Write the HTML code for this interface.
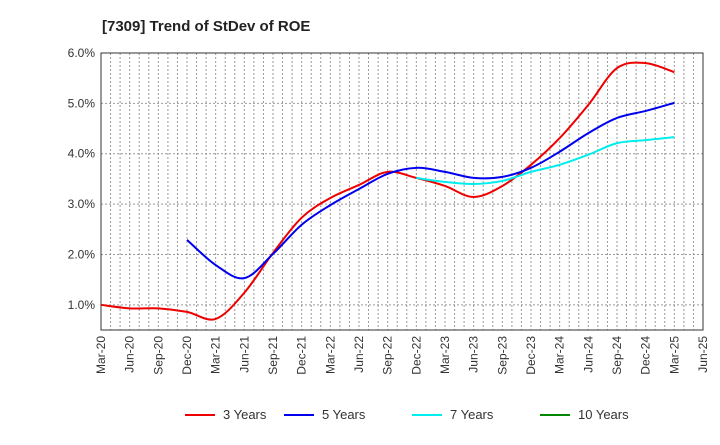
<!DOCTYPE html>
<html><head><meta charset="utf-8"><style>
body{margin:0;background:#fff;font-family:"Liberation Sans",Arial,sans-serif}
</style></head><body>
<svg id="c" width="720" height="440" xmlns="http://www.w3.org/2000/svg" font-family="Liberation Sans, Arial, sans-serif">
<text x="102" y="31" font-size="15" font-weight="bold" fill="#222">[7309]  Trend of StDev of ROE</text>
<g id="grid"></g><g id="axes"></g><g id="series"></g><g id="legend"></g>
</svg>
<script>
const xLabels=["Mar-20","Jun-20","Sep-20","Dec-20","Mar-21","Jun-21","Sep-21","Dec-21","Mar-22","Jun-22","Sep-22","Dec-22","Mar-23","Jun-23","Sep-23","Dec-23","Mar-24","Jun-24","Sep-24","Dec-24","Mar-25","Jun-25"];
const yTicks=[1,2,3,4,5,6];
const s3=[1.0,0.93,0.93,0.86,0.72,1.24,2.03,2.73,3.12,3.38,3.64,3.52,3.36,3.14,3.36,3.78,4.31,4.97,5.70,5.80,5.62];
const s5=[null,null,null,2.29,1.79,1.53,2.01,2.59,2.98,3.30,3.60,3.72,3.64,3.52,3.54,3.72,4.04,4.41,4.71,4.85,5.01];
const s7=[null,null,null,null,null,null,null,null,null,null,null,3.52,3.44,3.40,3.46,3.64,3.78,3.98,4.21,4.27,4.33];
const s10=[];
const L=101,R=703,T=53,B=330,ymin=0.5,ymax=6.0;
const NS="http://www.w3.org/2000/svg";
const X=q=>L+q*(R-L)/21;
const Y=v=>B-(v-ymin)*(B-T)/(ymax-ymin);
function mk(tag,at,par){const e=document.createElementNS(NS,tag);for(const k in at)e.setAttribute(k,at[k]);document.getElementById(par).appendChild(e);return e;}
for(let m=1;m<63;m++){const l=mk('line',{x1:X(m/3),x2:X(m/3),y1:T,y2:B,stroke:'#999','stroke-dasharray':'2,2','stroke-width':1},'grid');

}
yTicks.forEach(v=>{const l=mk('line',{x1:L,x2:R,y1:Y(v),y2:Y(v),stroke:'#999','stroke-dasharray':'2,2'},'grid');


const t=mk('text',{x:L-6,y:Y(v)+4,'text-anchor':'end','font-size':12,fill:'#333'},'axes');t.textContent=v.toFixed(1)+'%';

});
const fr=mk('rect',{x:L,y:T,width:R-L,height:B-T,fill:'none',stroke:'#333'},'axes');


xLabels.forEach((s,i)=>{const t=mk('text',{transform:`translate(${X(i)+4},${B+6}) rotate(-90)`,'text-anchor':'end','font-size':12,fill:'#333'},'axes');t.textContent=s;

});
function path(arr){const p=[];arr.forEach((v,i)=>{if(v!=null)p.push([X(i),Y(v)]);});if(!p.length)return'';
let d=`M${p[0][0]},${p[0][1]}`;for(let i=0;i<p.length-1;i++){const p0=p[i-1]||p[i],p1=p[i],p2=p[i+1],p3=p[i+2]||p2;
d+=` C${p1[0]+(p2[0]-p0[0])/6},${p1[1]+(p2[1]-p0[1])/6} ${p2[0]-(p3[0]-p1[0])/6},${p2[1]-(p3[1]-p1[1])/6} ${p2[0]},${p2[1]}`;}return d;}
const series=[[s3,'#e00','3 Years',185],[s5,'#00e','5 Years',284],[s7,'#0ee','7 Years',412],[s10,'#080','10 Years',540]];
series.forEach(([a,c,n,lx])=>{const d=path(a);if(d){const p=mk('path',{d,fill:'none',stroke:c,'stroke-width':2},'series');

}
const l=mk('line',{x1:lx,x2:lx+30,y1:415,y2:415,stroke:c,'stroke-width':2},'legend');


const t=mk('text',{x:lx+38,y:419,'font-size':13,fill:'#333'},'legend');t.textContent=n;

});
</script>
</body></html>
